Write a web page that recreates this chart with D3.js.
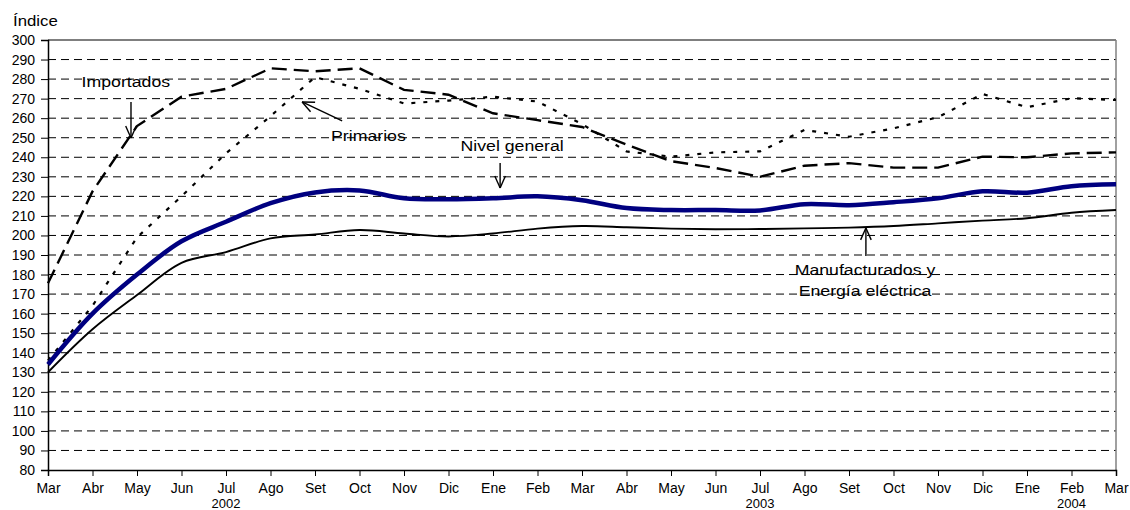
<!DOCTYPE html>
<html><head><meta charset="utf-8">
<script src="https://cdn.jsdelivr.net/npm/d3@7"></script>
<style>
html,body{margin:0;padding:0;background:#fff;}
text{font-family:"Liberation Sans",Arial,sans-serif;fill:#000;}
</style></head>
<body><svg id="c" width="1130" height="510"></svg>
<script>
const months = ["Mar","Abr","May","Jun","Jul","Ago","Set","Oct","Nov","Dic","Ene","Feb","Mar","Abr","May","Jun","Jul","Ago","Set","Oct","Nov","Dic","Ene","Feb","Mar"];
const years = [{idx:4, label:"2002"},{idx:16, label:"2003"},{idx:23, label:"2004"}];
const yTicks = d3.range(80, 301, 10);
const nivelGeneral = [134,160,180,197,207,216.5,222,223,219,218.5,219,220,218,214,213,213,212.8,216,215.5,217,219,222.6,221.9,225.2,226.2];
const manufacturados = [130,152,169.5,186,191.5,198.5,200.5,202.8,201,199.5,201,203.5,204.8,204.2,203.5,203.2,203.3,203.6,204,204.8,206.2,207.6,208.8,211.6,213];
const importados = [175.5,222.5,256,271,275,285.5,284,285.5,274.5,272,262.5,259,255.5,246.5,238,234.5,230,235.7,237,234.7,234.7,240.3,240,242,242.5];
const primarios = [136,164,199,220,242,261,281,275,267.5,269,271,268.5,257,243,240.3,242.5,243,254,250.5,254.8,260.5,272.4,265.6,270.2,269.3];

const annotations = [
  {lines:["Importados"], x:1.75, y:[276], from:[1.865,268.3], to:[1.865,249.9]},
  {lines:["Primarios"], x:7.2, y:[248.3], from:[6.61,258.6], to:[5.71,268.3]},
  {lines:["Nivel general"], x:10.43, y:[243.2], from:[10.16,237.1], to:[10.16,224.3]},
  {lines:["Manufacturados y","Energía eléctrica"], x:18.36, y:[179.8,169], from:[18.38,189.5], to:[18.38,203.8]}
];

const svg = d3.select("#c");
const L=48, R=1116, T=40, B=470;
const x = d3.scaleLinear().domain([0, months.length-1]).range([L, R]);
const y = d3.scaleLinear().domain([80, 300]).range([B, T]);

// gridlines
svg.append("g").selectAll("line").data(yTicks.filter(v=>v>80 && v<300)).join("line")
  .attr("x1", L).attr("x2", R).attr("y1", d=>y(d)).attr("y2", d=>y(d))
  .attr("stroke", "#000").attr("stroke-width", 1).attr("stroke-dasharray", "8,5");

// borders
svg.append("line").attr("x1",L).attr("x2",R).attr("y1",y(300)).attr("y2",y(300)).attr("stroke","#000").attr("stroke-width",1.2);
svg.append("line").attr("x1",R).attr("x2",R).attr("y1",T).attr("y2",B).attr("stroke","#808080").attr("stroke-width",1.5);

// axes
const yAxis = svg.append("g").attr("transform",`translate(${L},0)`)
  .call(d3.axisLeft(y).tickValues(yTicks).tickSize(7).tickPadding(6).tickFormat(d3.format("d")));
yAxis.select(".domain").attr("stroke","#000").attr("stroke-width",1.5);
yAxis.selectAll(".tick line").attr("stroke","#000");
yAxis.selectAll("text").style("font-size","14px").attr("fill","#000");

const xAxis = svg.append("g").attr("transform",`translate(0,${B})`)
  .call(d3.axisBottom(x).tickValues(d3.range(months.length)).tickSize(6).tickPadding(7).tickFormat(i=>months[i]));
xAxis.select(".domain").attr("stroke","#000").attr("stroke-width",1.5);
xAxis.selectAll(".tick line").attr("stroke","#000");
xAxis.selectAll("text").style("font-size","14px").attr("fill","#000").attr("dy","0.71em");

svg.append("g").selectAll("text").data(years).join("text")
  .attr("x", d=>x(d.idx)).attr("y", 508).attr("text-anchor","middle")
  .style("font-size","13px").text(d=>d.label);

svg.append("text").attr("x",13).attr("y",26).style("font-size","15px")
  .attr("transform","translate(13,0) scale(1.12,1) translate(-13,0)").text("Índice");

// lines
const smooth = d3.line().x((d,i)=>x(i)).y(d=>y(d)).curve(d3.curveCatmullRom.alpha(0.5));
const straight = d3.line().x((d,i)=>x(i)).y(d=>y(d));

svg.append("path").datum(importados).attr("d", straight).attr("fill","none")
  .attr("stroke","#000").attr("stroke-width",2.4).attr("stroke-dasharray","15,7");
svg.append("path").datum(primarios).attr("d", straight).attr("fill","none")
  .attr("stroke","#000").attr("stroke-width",2.2).attr("stroke-dasharray","4,8");
svg.append("path").datum(manufacturados).attr("d", smooth).attr("fill","none")
  .attr("stroke","#000").attr("stroke-width",1.9);
svg.append("path").datum(nivelGeneral).attr("d", smooth).attr("fill","none")
  .attr("stroke","#000080").attr("stroke-width",4.5);

// annotations
const ag = svg.append("g");
annotations.forEach(a=>{
  const cx = x(a.x);
  a.lines.forEach((t,k)=>{
    ag.append("text").attr("x",cx).attr("y",y(a.y[k])).attr("text-anchor","middle")
      .style("font-size","15px")
      .attr("transform",`translate(${cx},0) scale(1.18,1) translate(${-cx},0)`).text(t);
  });
  const x1=x(a.from[0]), y1=y(a.from[1]), x2=x(a.to[0]), y2=y(a.to[1]);
  ag.append("line").attr("x1",x1).attr("y1",y1).attr("x2",x2).attr("y2",y2)
    .attr("stroke","#000").attr("stroke-width",1.4);
  const ang = Math.atan2(y2-y1, x2-x1), len=13, w=0.42;
  [ang+Math.PI-w, ang+Math.PI+w].forEach(b=>{
    ag.append("line").attr("x1",x2).attr("y1",y2)
      .attr("x2",x2+len*Math.cos(b)).attr("y2",y2+len*Math.sin(b))
      .attr("stroke","#000").attr("stroke-width",1.4);
  });
});
</script></body></html>
